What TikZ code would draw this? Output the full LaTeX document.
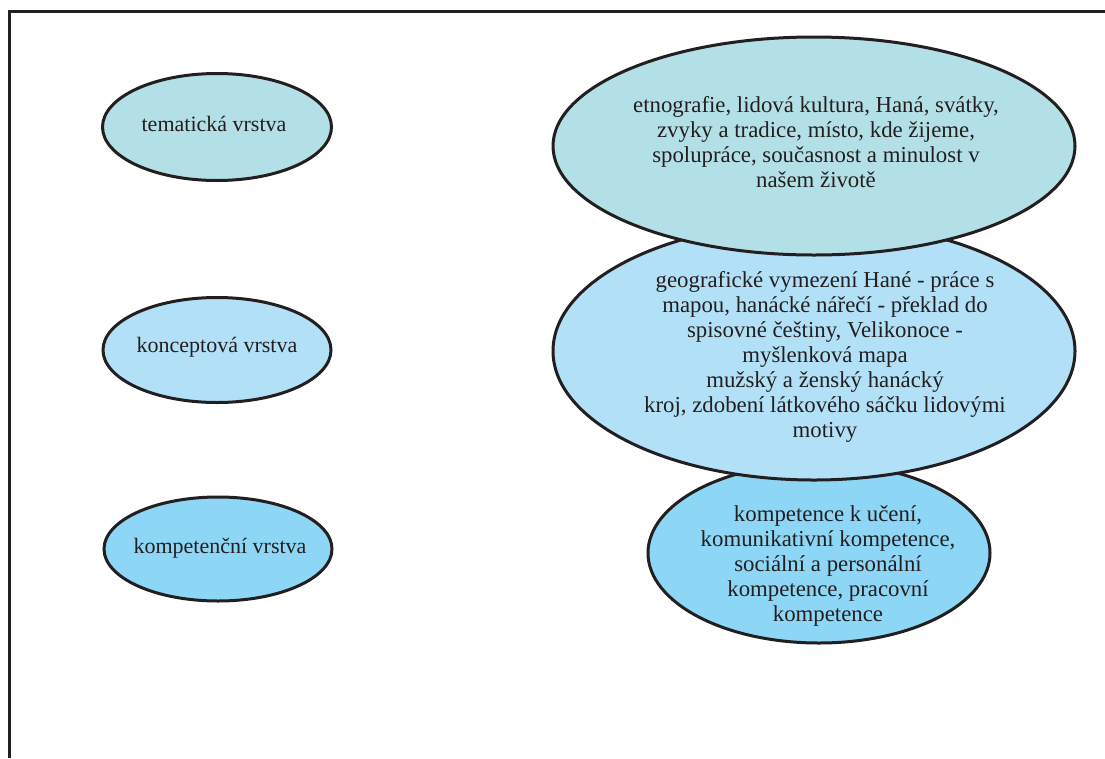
\documentclass[tikz,border=0pt]{standalone}
\usepackage{fontspec}
\setmainfont{Liberation Serif}
\usetikzlibrary{shapes.geometric}
\definecolor{cTema}{RGB}{179,224,230}
\definecolor{cKonc}{RGB}{177,224,247}
\definecolor{cKomp}{RGB}{141,214,245}
\definecolor{ink}{RGB}{35,31,32}
\begin{document}
\begin{tikzpicture}[x=1pt,y=-1pt,
  ell/.style={ellipse, draw=ink, line width=3pt, inner sep=0pt},
  txt/.style={align=center, text=ink, font=\fontsize{22.8}{25}\selectfont, inner sep=0pt},
  lbl/.style={text=ink, font=\fontsize{22}{25}\selectfont, inner sep=0pt}
]
\useasboundingbox (0,0) rectangle (1105,758);
\fill[white] (0,0) rectangle (1105,758);
\coordinate (fb) at (9,758);
\coordinate (fc) at (9,11);
\coordinate (fr) at (1105,11);
\draw[ink, line width=3pt] (fb) -- (fc) -- (fr);

% left column
\node[ell, fill=cTema, minimum width=229pt, minimum height=107pt] (l1) at (217,127) {};
\node[ell, fill=cKonc, minimum width=228pt, minimum height=105pt] (l2) at (217,350) {};
\node[ell, fill=cKomp, minimum width=228pt, minimum height=104pt] (l3) at (218,549) {};
\node[lbl] (l1t) at (214,124) {tematická vrstva};
\node[lbl] (l2t) at (217,347) {konceptová vrstva};
\node[lbl] (l3t) at (220,548) {kompetenční vrstva};

% right column (drawn bottom first so upper ellipses overlap lower ones)
\node[ell, fill=cKomp, minimum width=342pt, minimum height=180pt] (r3) at (819,553) {};
\node[ell, fill=cKonc, minimum width=522pt, minimum height=258pt] (r2) at (814,351) {};
\node[ell, fill=cTema, minimum width=522pt, minimum height=218pt] (r1) at (814,146) {};

\node[txt] (r1t) at (816,142) {etnografie, lidová kultura, Haná, svátky,\\ zvyky a tradice, místo, kde žijeme,\\ spolupráce, současnost a minulost v\\ našem životě};
\node[txt] (r2t) at (825,357) {geografické vymezení Hané - práce s\\ mapou, hanácké nářečí - překlad do\\ spisovné češtiny, Velikonoce -\\ myšlenková mapa\hspace*{28pt}\\ mužský a ženský hanácký\hspace*{32pt}\\ kroj, zdobení látkového sáčku lidovými\\ motivy};
\node[txt] (r3t) at (828,566) {kompetence k učení,\\ komunikativní kompetence,\\ sociální a personální\\ kompetence, pracovní\\ kompetence};
\end{tikzpicture}
\end{document}
